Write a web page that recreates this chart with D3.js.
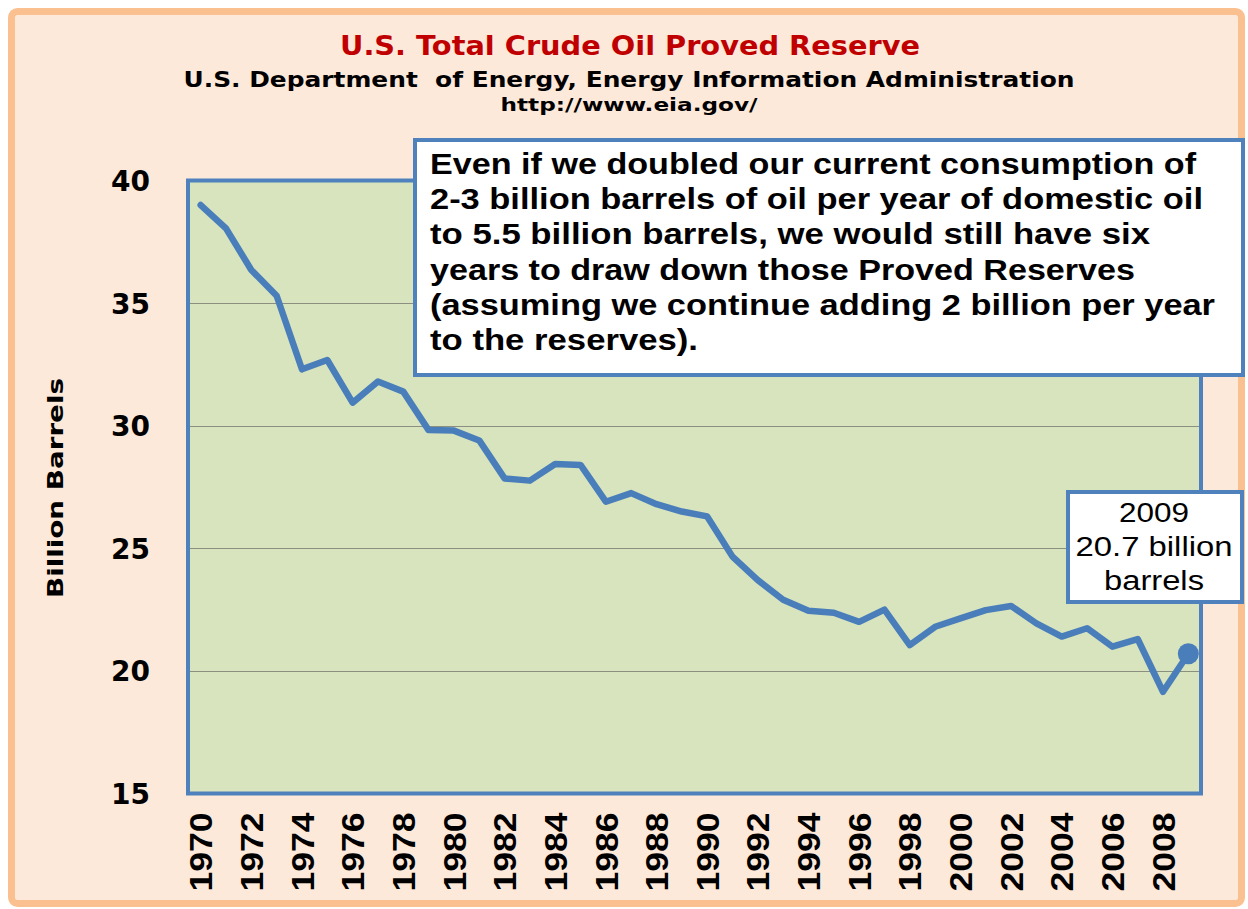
<!DOCTYPE html>
<html>
<head>
<meta charset="utf-8">
<script src="https://cdn.jsdelivr.net/npm/d3@7"></script>
<style>
  body { margin: 0; background: #fff; }
  svg { display: block; }
  text { white-space: pre; }
</style>
</head>
<body>
<svg id="chart" width="1248" height="909"></svg>
<script>
// chart data
const years = d3.range(1970, 2010)
const reserves = [39.0, 38.05, 36.35, 35.3, 32.3, 32.68, 30.94, 31.8, 31.39, 29.82,
  29.8, 29.4, 27.85, 27.76, 28.44, 28.4, 26.9, 27.25, 26.8, 26.5,
  26.3, 24.66, 23.7, 22.9, 22.45, 22.37, 22.0, 22.5, 21.05, 21.8,
  22.14, 22.48, 22.65, 21.94, 21.4, 21.74, 20.99, 21.3, 19.15, 20.7]
const yTicks = [15, 20, 25, 30, 35, 40]
const xTickYears = years.filter(y => y % 2 == 0)

const noteLines = [
  'Even if we doubled our current consumption of',
  '2-3 billion barrels of oil per year of domestic oil',
  'to 5.5 billion barrels, we would still have six',
  'years to draw down those Proved Reserves',
  '(assuming we continue adding 2 billion per year',
  'to the reserves).'
]
const noteWidths = [766, 773, 720, 705, 785, 268]
const calloutLines = ['2009', '20.7 billion', 'barrels']
const calloutWidths = [70, 157, 100]

const svg = d3.select('#chart')
const blue = '#4f81bd'

// outer frame
svg.append('rect')
  .attr('x', 11.5).attr('y', 11.5).attr('width', 1230).attr('height', 892)
  .attr('rx', 6)
  .attr('fill', '#fde9d9').attr('stroke', '#fac090').attr('stroke-width', 7)

const plot = { left: 188, right: 1201, top: 180.5, bottom: 793.5 }

const x = d3.scalePoint().domain(years).range([plot.left, plot.right]).padding(0.5)
const y = d3.scaleLinear().domain([15, 40]).range([plot.bottom, plot.top])

// plot area
svg.append('rect')
  .attr('x', plot.left).attr('y', plot.top)
  .attr('width', plot.right - plot.left).attr('height', plot.bottom - plot.top)
  .attr('fill', '#d7e4bd')

// gridlines
svg.append('g')
  .selectAll('line')
  .data(yTicks.filter(t => t > 15 && t < 40))
  .join('line')
  .attr('x1', plot.left).attr('x2', plot.right)
  .attr('y1', d => Math.round(y(d)) + 0.5).attr('y2', d => Math.round(y(d)) + 0.5)
  .attr('stroke', '#8a8f80').attr('stroke-width', 1.2)

svg.append('rect')
  .attr('x', plot.left).attr('y', plot.top)
  .attr('width', plot.right - plot.left).attr('height', plot.bottom - plot.top)
  .attr('fill', 'none').attr('stroke', blue).attr('stroke-width', 4)

// y axis
const yAxis = svg.append('g')
  .attr('transform', `translate(${plot.left - 38},0)`)
  .call(d3.axisLeft(y).tickValues(yTicks).tickSize(0).tickPadding(0))
yAxis.select('.domain').remove()
yAxis.selectAll('text')
  .attr('font-family', 'DejaVu Sans, Verdana, sans-serif')
  .attr('font-weight', 'bold').attr('font-size', 28).attr('fill', '#000')
  .attr('dy', '0.36em')

// x axis, rotated year labels
const xAxis = svg.append('g')
  .attr('transform', `translate(0,${plot.bottom + 19})`)
  .call(d3.axisBottom(x).tickValues(xTickYears).tickSize(0).tickPadding(0))
xAxis.select('.domain').remove()
xAxis.selectAll('text')
  .attr('font-family', 'Liberation Sans, Arial, sans-serif')
  .attr('font-weight', 'bold').attr('font-size', 31).attr('fill', '#000')
  .attr('text-anchor', 'end')
  .attr('transform', 'rotate(-90)')
  .attr('x', 0).attr('y', 0).attr('dy', '0.36em')
  .attr('textLength', 79).attr('lengthAdjust', 'spacingAndGlyphs')

// y title
svg.append('text')
  .attr('transform', 'translate(63,488) rotate(-90)')
  .attr('text-anchor', 'middle')
  .attr('font-family', 'DejaVu Sans, Verdana, sans-serif')
  .attr('font-weight', 'bold').attr('font-size', 22)
  .attr('textLength', 220).attr('lengthAdjust', 'spacingAndGlyphs')
  .text('Billion Barrels')

// titles
svg.append('text')
  .attr('x', 630).attr('y', 55).attr('text-anchor', 'middle')
  .attr('font-family', 'DejaVu Sans, Verdana, sans-serif')
  .attr('font-weight', 'bold').attr('font-size', 27).attr('fill', '#c00000')
  .attr('textLength', 580).attr('lengthAdjust', 'spacingAndGlyphs')
  .text('U.S. Total Crude Oil Proved Reserve')
svg.append('text')
  .attr('x', 629).attr('y', 87).attr('text-anchor', 'middle')
  .attr('font-family', 'DejaVu Sans, Verdana, sans-serif')
  .attr('font-weight', 'bold').attr('font-size', 21).attr('fill', '#000')
  .attr('textLength', 891).attr('lengthAdjust', 'spacingAndGlyphs')
  .text('U.S. Department  of Energy, Energy Information Administration')
svg.append('text')
  .attr('x', 629).attr('y', 111).attr('text-anchor', 'middle')
  .attr('font-family', 'DejaVu Sans, Verdana, sans-serif')
  .attr('font-weight', 'bold').attr('font-size', 17).attr('fill', '#000')
  .attr('textLength', 257).attr('lengthAdjust', 'spacingAndGlyphs')
  .text('http://www.eia.gov/')

// the data line
const line = d3.line()
  .x((d, i) => x(years[i]))
  .y(d => y(d))

svg.append('path')
  .datum(reserves)
  .attr('d', line)
  .attr('fill', 'none')
  .attr('stroke', '#4a7ebb').attr('stroke-width', 6.5)
  .attr('stroke-linejoin', 'round').attr('stroke-linecap', 'round')

svg.append('circle')
  .attr('cx', x(years[years.length - 1])).attr('cy', y(reserves[reserves.length - 1]))
  .attr('r', 10.5).attr('fill', '#4a7ebb')

// big note box
svg.append('rect')
  .attr('x', 415).attr('y', 140).attr('width', 828).attr('height', 235)
  .attr('fill', '#fff').attr('stroke', blue).attr('stroke-width', 4)

svg.append('g')
  .selectAll('text')
  .data(noteLines)
  .join('text')
  .attr('x', 430).attr('y', (d, i) => 174 + i * 35.2)
  .attr('font-family', 'Liberation Sans, Arial, sans-serif')
  .attr('font-weight', 'bold').attr('font-size', 29).attr('fill', '#000')
  .attr('textLength', (d, i) => noteWidths[i]).attr('lengthAdjust', 'spacingAndGlyphs')
  .text(d => d)

// 2009 callout
svg.append('rect')
  .attr('x', 1068).attr('y', 492).attr('width', 174).attr('height', 110)
  .attr('fill', '#fff').attr('stroke', blue).attr('stroke-width', 4)

svg.append('g')
  .selectAll('text')
  .data(calloutLines)
  .join('text')
  .attr('x', 1154).attr('y', (d, i) => 522 + i * 34)
  .attr('text-anchor', 'middle')
  .attr('font-family', 'Liberation Sans, Arial, sans-serif')
  .attr('font-size', 27).attr('fill', '#000')
  .attr('textLength', (d, i) => calloutWidths[i]).attr('lengthAdjust', 'spacingAndGlyphs')
  .text(d => d)
</script>
</body>
</html>
